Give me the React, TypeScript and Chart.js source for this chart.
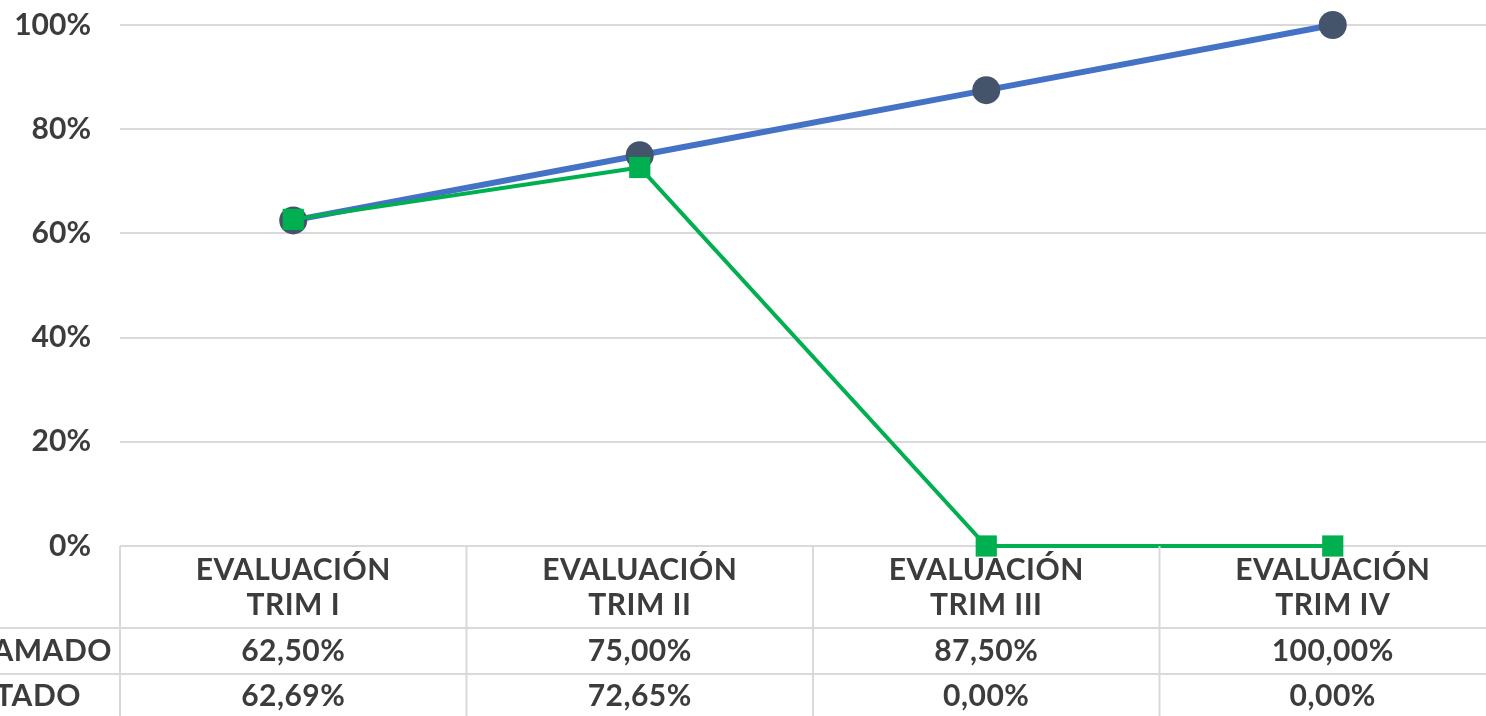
import React, { useEffect, useRef } from "react";
import { Chart, registerables } from "chart.js";

Chart.register(...registerables);

const categories: string[][] = [
  ["EVALUACIÓN", "TRIM I"],
  ["EVALUACIÓN", "TRIM II"],
  ["EVALUACIÓN", "TRIM III"],
  ["EVALUACIÓN", "TRIM IV"],
];
const programado: number[] = [62.5, 75, 87.5, 100];
const ejecutado: number[] = [62.69, 72.65, 0, 0];
const programadoLabels: string[] = ["62,50%", "75,00%", "87,50%", "100,00%"];
const ejecutadoLabels: string[] = ["62,69%", "72,65%", "0,00%", "0,00%"];
const rowNames: string[] = ["PROGRAMADO", "EJECUTADO"];
const yTicks: number[] = [0, 20, 40, 60, 80, 100];

const OFFX = 100;
const CW = 1626;
const CH = 716;
const TEXT = "#3c3c3c";
const GRID = "#d9d9d9";
const FONT = "bold 30px Lato";

const tablePlugin = {
  id: "dataTable",
  afterDraw(chart: any) {
    const ctx = chart.ctx as CanvasRenderingContext2D;
    const xs = chart.scales.x;
    const area = chart.chartArea;
    const n = categories.length;
    const w = (area.right - area.left) / n;
    const top = area.bottom;
    const r1 = top + 82;
    const r2 = r1 + 46;
    ctx.save();
    ctx.strokeStyle = GRID;
    ctx.lineWidth = 2;
    ctx.beginPath();
    for (let k = 0; k <= n; k++) {
      const x = area.left + k * w;
      ctx.moveTo(x, top);
      ctx.lineTo(x, CH);
    }
    ctx.moveTo(0, r1);
    ctx.lineTo(CW, r1);
    ctx.moveTo(0, r2);
    ctx.lineTo(CW, r2);
    ctx.stroke();

    ctx.fillStyle = TEXT;
    ctx.font = FONT;
    (ctx as any).letterSpacing = "0.5px";
    ctx.textAlign = "center";
    ctx.textBaseline = "middle";
    for (let i = 0; i < n; i++) {
      const cx = xs.getPixelForValue(i);
      ctx.fillText(categories[i][0], cx, top + 24);
      ctx.fillText(categories[i][1], cx, top + 59);
      ctx.fillText(programadoLabels[i], cx, r1 + 23);
      ctx.fillText(ejecutadoLabels[i], cx, r2 + 22);
    }
    ctx.textAlign = "right";
    ctx.fillText(rowNames[0], OFFX + 112, r1 + 23);
    ctx.fillText(rowNames[1], OFFX + 81, r2 + 22);
    ctx.restore();
  },
};

export default function App() {
  const ref = useRef<HTMLCanvasElement | null>(null);
  useEffect(() => {
    if (!ref.current) return;
    const chart = new Chart(ref.current, {
      type: "line",
      data: {
        labels: categories.map((c) => c.join(" ")),
        datasets: [
          {
            label: rowNames[0],
            data: programado,
            borderColor: "#4472C4",
            backgroundColor: "#44546A",
            borderWidth: 6,
            pointStyle: "circle",
            pointRadius: 14,
            pointHoverRadius: 14,
            pointBackgroundColor: "#44546A",
            pointBorderColor: "#44546A",
            pointBorderWidth: 0,
            clip: false as any,
            order: 2,
            tension: 0,
          },
          {
            label: rowNames[1],
            data: ejecutado,
            borderColor: "#00B050",
            backgroundColor: "#00B050",
            borderWidth: 4,
            pointStyle: "rect",
            pointRadius: 15,
            pointHoverRadius: 15,
            pointBackgroundColor: "#00B050",
            pointBorderColor: "#00B050",
            pointBorderWidth: 0,
            clip: false as any,
            order: 1,
            tension: 0,
          },
        ],
      },
      options: {
        animation: false,
        responsive: false,
        layout: { autoPadding: false, padding: { top: 25, bottom: CH - 546, left: 0, right: CW - (OFFX + 1506) } },
        plugins: { legend: { display: false }, tooltip: { enabled: false } },
        scales: {
          x: { display: false, offset: true },
          y: {
            min: 0,
            max: 100,
            afterFit: (s: any) => {
              s.width = OFFX + 120;
              s.paddingTop = 0;
              s.paddingBottom = 0;
            },
            afterBuildTicks: (s: any) => {
              s.ticks = yTicks.map((v) => ({ value: v }));
            },
            border: { display: false },
            grid: { color: GRID, lineWidth: 2, drawTicks: false },
            ticks: {
              padding: 29,
              color: TEXT,
              font: { family: "Lato", size: 30, weight: "bold" },
              callback: (v: any) => v + "%",
            },
          },
        },
      },
      plugins: [tablePlugin],
    });
    return () => chart.destroy();
  }, []);
  return (
    <div style={{ position: "fixed", left: 0, top: 0, width: 1486, height: 716, overflow: "hidden", background: "#fff" }}>
      <canvas ref={ref} width={CW} height={CH} style={{ position: "absolute", left: -OFFX, top: 0, width: CW, height: CH }} />
    </div>
  );
}
